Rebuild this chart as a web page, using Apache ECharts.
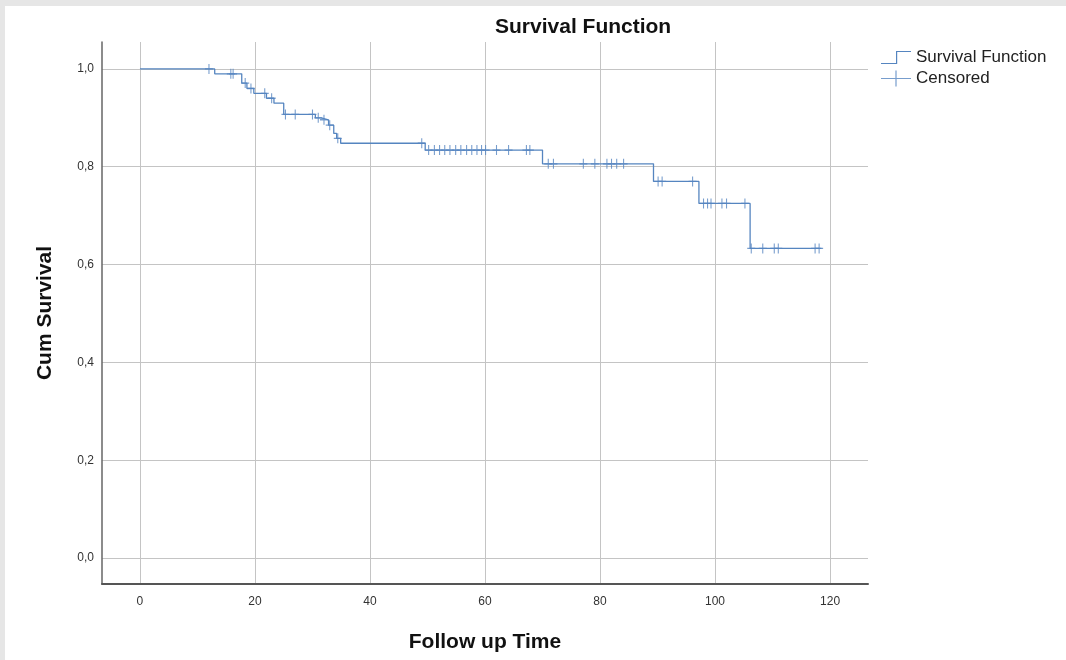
<!DOCTYPE html>
<html>
<head>
<meta charset="utf-8">
<script src="https://cdn.jsdelivr.net/npm/echarts@6/dist/echarts.min.js"></script>
<style>
html,body{margin:0;padding:0;background:#e6e6e6;width:1066px;height:660px;overflow:hidden;}
#panel{position:absolute;left:5px;top:6px;right:0;bottom:0;background:#fff;}
#chart{position:absolute;left:0;top:0;width:1066px;height:660px;}
</style>
</head>
<body>
<div id="panel"></div>
<div id="chart"></div>
<script>
// Survival step function: time of each step and survival after it
const stepTimes = [0, 13.0, 17.7, 18.6, 19.8, 22.0, 23.3, 25.0, 30.5, 31.5, 32.8, 33.7, 34.2, 34.9, 49.6, 70.0, 89.3, 97.2, 106.1, 118.5];
const stepSurv  = [1.0, 0.990, 0.971, 0.960, 0.950, 0.940, 0.930, 0.907, 0.900, 0.896, 0.885, 0.868, 0.858, 0.848, 0.834, 0.806, 0.770, 0.725, 0.633, 0.633];

// Censored observations
const censorTimes = [12.0, 15.8, 16.2, 18.3, 19.3, 21.7, 22.9, 25.3, 27.0, 30.0, 31.0, 32.0, 33.0, 34.4, 49.0,
  50.2, 51.2, 52.1, 53.0, 53.9, 54.9, 55.8, 56.8, 57.7, 58.6, 59.4, 60.1, 62.0, 64.1, 67.2, 67.8,
  71.0, 71.9, 77.1, 79.1, 81.2, 82.0, 82.9, 84.1, 90.1, 90.8, 96.1,
  98.0, 98.7, 99.3, 101.2, 102.0, 105.2, 106.3, 108.3, 110.3, 111.0, 117.4, 118.1];
const censorSurv = [1.0, 0.990, 0.990, 0.971, 0.960, 0.950, 0.940, 0.907, 0.907, 0.907, 0.900, 0.896, 0.885, 0.858, 0.848,
  0.834, 0.834, 0.834, 0.834, 0.834, 0.834, 0.834, 0.834, 0.834, 0.834, 0.834, 0.834, 0.834, 0.834, 0.834, 0.834,
  0.806, 0.806, 0.806, 0.806, 0.806, 0.806, 0.806, 0.806, 0.770, 0.770, 0.770,
  0.725, 0.725, 0.725, 0.725, 0.725, 0.725, 0.633, 0.633, 0.633, 0.633, 0.633, 0.633];

const xTicks = [0, 20, 40, 60, 80, 100, 120];
const yTicks = [0, 0.2, 0.4, 0.6, 0.8, 1.0];

const lineColor = '#5585c0';
const chart = echarts.init(document.getElementById('chart'), null, {renderer: 'canvas'});
const font = 'Arial, "Liberation Sans", sans-serif';

chart.setOption({
  backgroundColor: 'transparent',
  animation: false,
  title: {
    text: 'Survival Function',
    left: 490, top: 12,
    textStyle: {fontFamily: font, fontSize: 21, fontWeight: 'bold', color: '#111'}
  },
  legend: {
    orient: 'vertical',
    left: 876, top: 44,
    itemWidth: 30, itemHeight: 16, itemGap: 4,
    textStyle: {fontFamily: font, fontSize: 17, color: '#222'},
    data: [
      {name: 'Survival Function',
       icon: 'path://M0,14L15,14L15,2L30,2L30,3.2L16.2,3.2L16.2,15.2L0,15.2Z',
       itemStyle: {color: lineColor, borderWidth: 0}},
      {name: 'Censored',
       icon: 'path://M0,7.4L30,7.4L30,8.6L0,8.6Z M14.4,0L15.6,0L15.6,16L14.4,16Z',
       itemStyle: {color: lineColor, borderWidth: 0}}
    ]
  },
  grid: {left: 102, right: 198, top: 42, bottom: 76},
  xAxis: {
    type: 'value',
    min: -6.6, max: 126.6,
    name: 'Follow up Time',
    nameLocation: 'middle', nameGap: 48,
    nameTextStyle: {fontFamily: font, fontSize: 21, fontWeight: 'bold', color: '#111'},
    axisLine: {show: true, onZero: false, lineStyle: {color: '#555', width: 2}},
    axisTick: {show: false, customValues: xTicks},
    axisLabel: {customValues: xTicks, fontFamily: font, fontSize: 12, color: '#333', margin: 12},
    splitLine: {show: true, lineStyle: {color: '#c4c4c4', width: 1}}
  },
  yAxis: {
    type: 'value',
    min: -0.053, max: 1.055,
    name: 'Cum Survival',
    nameLocation: 'middle', nameGap: 46, nameRotate: 90,
    nameTextStyle: {fontFamily: font, fontSize: 21, fontWeight: 'bold', color: '#111'},
    axisLine: {show: true, onZero: false, lineStyle: {color: '#666', width: 1.5}},
    axisTick: {show: false, customValues: yTicks},
    axisLabel: {customValues: yTicks, fontFamily: font, fontSize: 12, color: '#333', margin: 8,
      formatter: v => v.toFixed(1).replace('.', ',')},
    splitLine: {show: true, lineStyle: {color: '#c4c4c4', width: 1}}
  },
  series: [
    {
      name: 'Survival Function',
      type: 'line',
      step: 'end',
      showSymbol: false,
      symbol: 'none',
      lineStyle: {color: lineColor, width: 1.3},
      itemStyle: {color: lineColor},
      data: stepTimes.map((t, i) => [t, stepSurv[i]]),
      z: 3
    },
    {
      name: 'Censored',
      type: 'scatter',
      symbol: 'path://M0,5L10,5M5,0L5,10',
      symbolSize: [8, 10],
      itemStyle: {color: lineColor, borderColor: lineColor, borderWidth: 1.2},
      data: censorTimes.map((t, i) => [t, censorSurv[i]]),
      z: 4
    }
  ]
});
</script>
</body>
</html>
